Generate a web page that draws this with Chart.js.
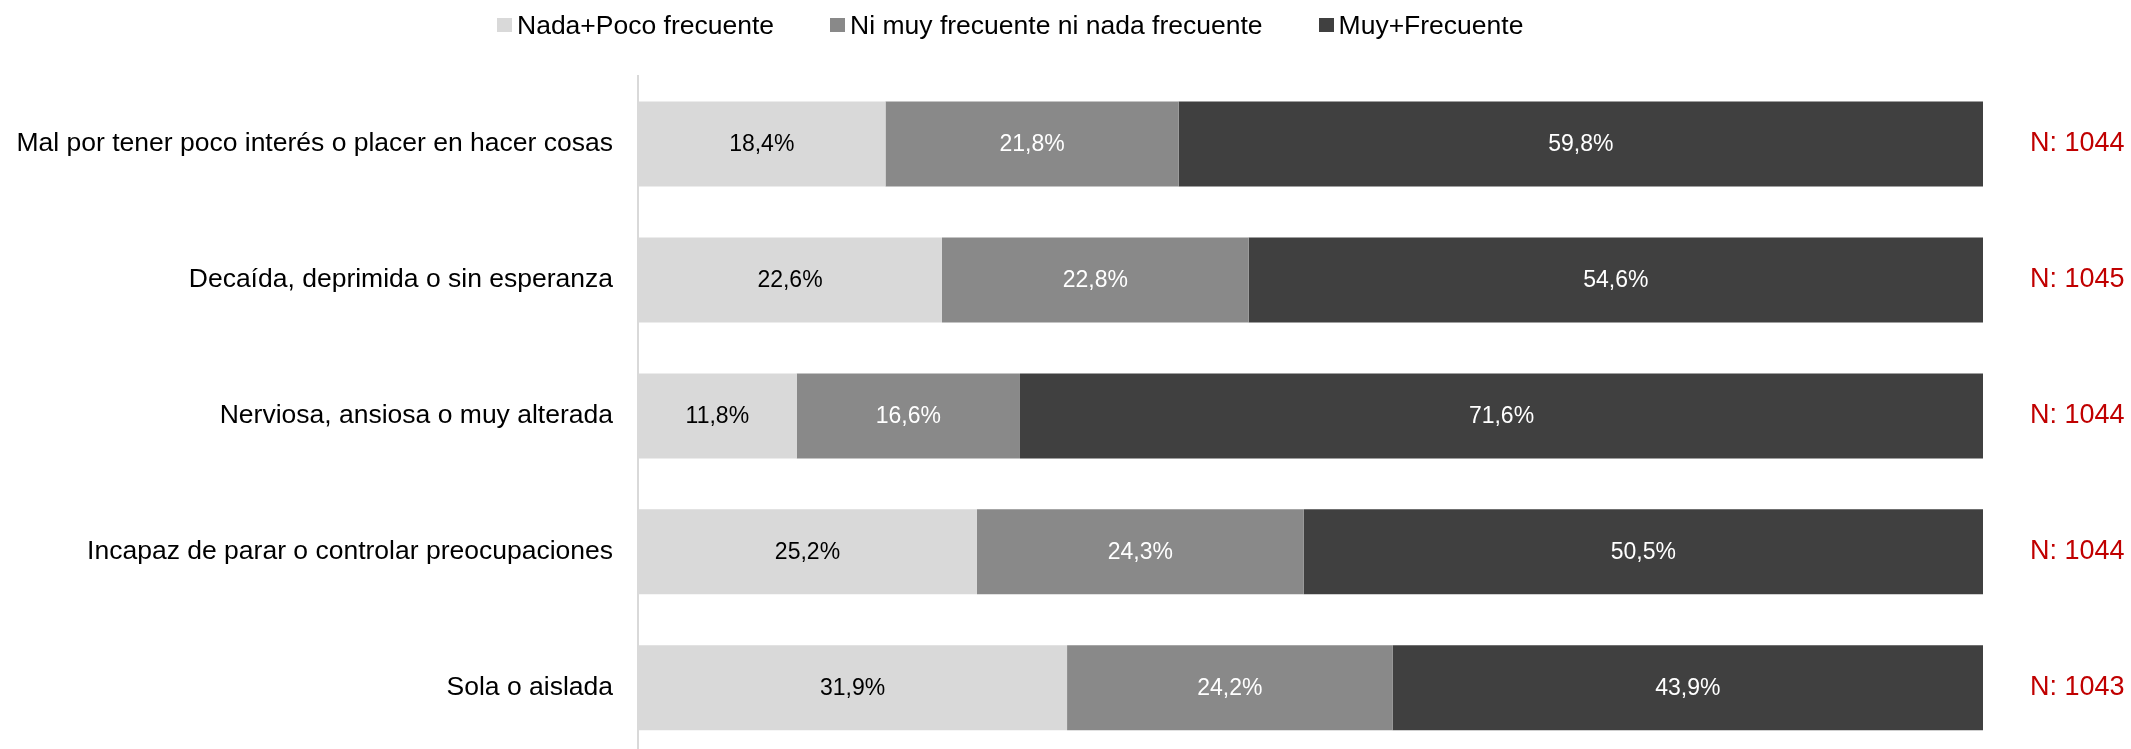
<!DOCTYPE html>
<html lang="es">
<head>
<meta charset="utf-8">
<title>Frecuencia de malestar</title>
<script src="https://cdn.jsdelivr.net/npm/chart.js@4.4.1/dist/chart.umd.min.js"></script>
<style>
  html, body { margin: 0; padding: 0; background: #fff; overflow: hidden; }
  #wrap { position: relative; width: 2131px; height: 772px; }
  #chart { display: block; }
  #legend {
    position: absolute; left: 497px; top: 12px;
    display: flex; align-items: center;
    font: 26.5px "Liberation Sans", Arial, sans-serif; line-height: 26px; color: #000;
  }
  .item { display: flex; align-items: center; margin-right: 56px; white-space: nowrap; }
  .box { width: 15px; height: 14px; margin-right: 5px; }
</style>
</head>
<body>
<div id="wrap">
  <canvas id="chart" width="2131" height="772"></canvas>
  <div id="legend"></div>
</div>
<script>
// data
const categories = [
  "Mal por tener poco interés o placer en hacer cosas",
  "Decaída, deprimida o sin esperanza",
  "Nerviosa, ansiosa o muy alterada",
  "Incapaz de parar o controlar preocupaciones",
  "Sola o aislada",
];
const nadaPoco = [18.4, 22.6, 11.8, 25.2, 31.9];
const niMuyNiNada = [21.8, 22.8, 16.6, 24.3, 24.2];
const muyFrecuente = [59.8, 54.6, 71.6, 50.5, 43.9];
const sampleSizes = [1044, 1045, 1044, 1044, 1043];
const seriesNames = ["Nada+Poco frecuente", "Ni muy frecuente ni nada frecuente", "Muy+Frecuente"];

const seriesColors = ["#d9d9d9", "#898989", "#404040"];
const labelColors = ["#000000", "#ffffff", "#ffffff"];
const FONT = '"Liberation Sans", Arial, sans-serif';

const formatPct = (v) => v.toFixed(1).replace(".", ",") + "%";

// legend as html, built from the series
const legendEl = document.getElementById("legend");
seriesNames.forEach((name, i) => {
  const item = document.createElement("div");
  item.className = "item";
  const box = document.createElement("span");
  box.className = "box";
  box.style.background = seriesColors[i];
  item.appendChild(box);
  item.appendChild(document.createTextNode(name));
  legendEl.appendChild(item);
});

// values written in the middle of each segment
const barLabels = {
  id: "barLabels",
  afterDatasetsDraw(chart) {
    const ctx = chart.ctx;
    ctx.save();
    ctx.font = "23px " + FONT;
    ctx.textAlign = "center";
    ctx.textBaseline = "middle";
    chart.data.datasets.forEach((ds, i) => {
      chart.getDatasetMeta(i).data.forEach((bar, j) => {
        const p = bar.getCenterPoint();
        ctx.fillStyle = labelColors[i];
        ctx.fillText(formatPct(ds.data[j]), p.x, p.y + 1);
      });
    });
    ctx.restore();
  },
};

const seriesData = [nadaPoco, niMuyNiNada, muyFrecuente];

new Chart(document.getElementById("chart"), {
  type: "bar",
  data: {
    labels: categories,
    datasets: seriesNames.map((name, i) => ({
      label: name,
      data: seriesData[i],
      backgroundColor: seriesColors[i],
      borderWidth: 0,
      categoryPercentage: 1,
      barPercentage: 0.625,
    })),
  },
  options: {
    indexAxis: "y",
    responsive: false,
    animation: false,
    layout: { padding: { top: 76, bottom: 0, left: 0, right: 0 } },
    plugins: {
      legend: { display: false },
      tooltip: { enabled: false },
    },
    scales: {
      x: { stacked: true, min: 0, max: 100, display: false },
      y: {
        stacked: true,
        // tick marks are hidden; their length only spaces the labels from the axis
        grid: { display: false, drawTicks: true, tickLength: 25 },
        border: { display: true, color: "#d9d9d9", width: 2 },
        ticks: { color: "#000", font: { family: FONT, size: 26.5 }, padding: 0 },
        afterFit: (scale) => { scale.width = 638; },
      },
      y2: {
        type: "category",
        labels: sampleSizes.map((n) => "N: " + n),
        position: "right",
        offset: true,
        grid: { display: false, drawTicks: true, tickLength: 47 },
        border: { display: false },
        ticks: { color: "#c00000", font: { family: FONT, size: 27 }, padding: 0 },
        afterFit: (scale) => { scale.width = 148; },
      },
    },
  },
  plugins: [barLabels],
});
</script>
</body>
</html>
